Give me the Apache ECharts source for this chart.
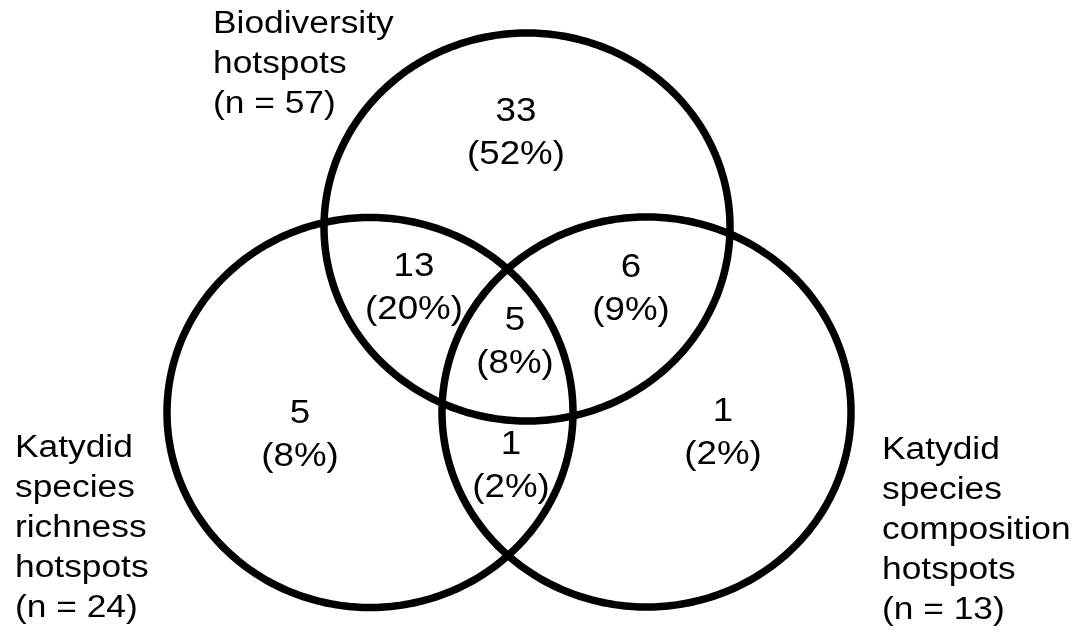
<!DOCTYPE html>
<html><head><meta charset="utf-8">
<script src="https://cdn.jsdelivr.net/npm/echarts@6/dist/echarts.min.js"></script>
<style>html,body{margin:0;padding:0;background:#fff}#chart{width:1090px;height:634px}</style>
</head><body><div id="chart"></div>
<script>
// ---- data ----
const setNames = ['Biodiversity\nhotspots', 'Katydid\nspecies\nrichness\nhotspots', 'Katydid\nspecies\ncomposition\nhotspots'];
const setSizes = [57, 24, 13];
const regionNames = ['Biodiversity only', 'Biodiversity & richness', 'Biodiversity & composition', 'All three', 'Richness only', 'Richness & composition', 'Composition only'];
const regionCounts = [33, 13, 6, 5, 5, 1, 1];
const regionPercents = [52, 20, 9, 8, 8, 2, 2];

// ---- layout (chart units, frame 1090 x 634) ----
const circleLayout = [[527, 227, 203, 194], [370, 412.5, 203, 195], [646.5, 412, 204.5, 195]];
const regionLabelPos = [[516, 133], [414, 288.5], [631, 289.5], [515, 342], [300, 435], [511, 466.5], [723, 433.5]];
const setLabelPos = [[213, 4], [15, 428], [882, 430]];

const FONT = '"Liberation Sans", Arial, Helvetica, sans-serif';
const chart = echarts.init(document.getElementById('chart'), null, {renderer: 'canvas'});

const option = {
  backgroundColor: '#ffffff',
  animation: false,
  grid: {left: 0, right: 0, top: 0, bottom: 0},
  xAxis: {type: 'value', min: 0, max: 1090, show: false},
  yAxis: {type: 'value', min: 0, max: 634, inverse: true, show: false},
  series: [
    {
      type: 'custom',
      name: 'sets',
      data: circleLayout.map((c, i) => ({name: setNames[i], value: c})),
      encode: {x: 0, y: 1},
      renderItem: function (params, api) {
        const cx = api.value(0), cy = api.value(1), rx = api.value(2), ry = api.value(3);
        const pts = [];
        for (let k = 0; k < 360; k++) {
          const t = k * Math.PI / 180;
          pts.push(api.coord([cx + rx * Math.cos(t), cy + ry * Math.sin(t)]));
        }
        return {
          type: 'polygon',
          shape: {points: pts},
          style: {fill: 'none', stroke: '#000', lineWidth: 7.5}
        };
      },
      silent: true,
      z: 2
    },
    {
      type: 'custom',
      name: 'regions',
      data: regionLabelPos.map((p, i) => ({name: regionNames[i], value: [p[0], p[1], regionCounts[i], regionPercents[i]]})),
      encode: {x: 0, y: 1},
      renderItem: function (params, api) {
        const pt = api.coord([api.value(0), api.value(1)]);
        return {
          type: 'text',
          x: pt[0], y: pt[1],
          scaleX: 1.08,
          style: {
            text: api.value(2) + '\n(' + api.value(3) + '%)',
            font: '34px ' + FONT,
            fill: '#000',
            align: 'center',
            verticalAlign: 'middle',
            lineHeight: 43
          }
        };
      },
      silent: true,
      z: 3
    },
    {
      type: 'custom',
      name: 'setLabels',
      data: setLabelPos.map((p, i) => ({name: setNames[i], value: [p[0], p[1], i]})),
      encode: {x: 0, y: 1},
      renderItem: function (params, api) {
        const i = api.value(2);
        const pt = api.coord([api.value(0), api.value(1)]);
        return {
          type: 'text',
          x: pt[0], y: pt[1],
          scaleX: 1.14,
          style: {
            text: setNames[i] + '\n(n = ' + setSizes[i] + ')',
            font: '31px ' + FONT,
            fill: '#000',
            align: 'left',
            verticalAlign: 'top',
            lineHeight: 40
          }
        };
      },
      silent: true,
      z: 3
    }
  ]
};
chart.setOption(option);
</script>
</body></html>
